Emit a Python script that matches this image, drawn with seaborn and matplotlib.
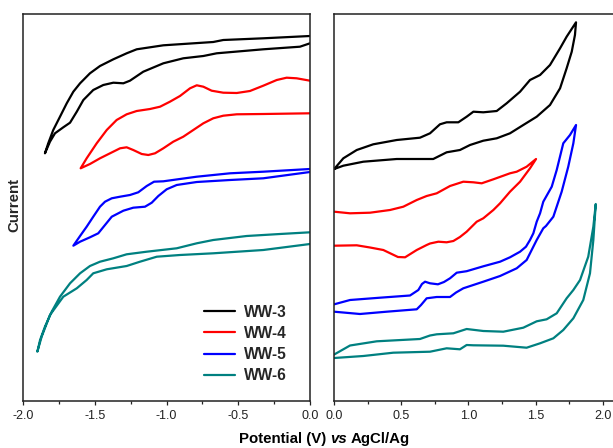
import numpy as np
import pandas as pd
import matplotlib
matplotlib.use("Agg")
import matplotlib.pyplot as plt
import seaborn as sns
from matplotlib.ticker import MultipleLocator
from matplotlib.offsetbox import TextArea, HPacker, AnchoredOffsetbox

samples = ["WW-3", "WW-4", "WW-5", "WW-6"]
colors = ["#000000", "#ff0000", "#0000ff", "#008080"]

# ---- negative scan (left panel): potential (V) and current (a.u.) ----
ww3_neg_v = [0.0, -0.326, -0.605, -0.675, -1.023, -1.209, -1.279, -1.372, -1.465, -1.535, -1.604,
             -1.651, -1.697, -1.744, -1.791, -1.826, -1.849,
             -1.814, -1.779, -1.721, -1.674, -1.627, -1.581, -1.512, -1.442, -1.372, -1.302, -1.256,
             -1.163, -1.023, -0.884, -0.744, -0.651, -0.326, -0.070, 0.0]
ww3_neg_i = [36.5, 36.27, 36.1, 35.9, 35.57, 35.17, 34.77, 34.17, 33.5, 32.77, 31.77,
             30.93, 29.77, 28.43, 27.1, 25.77, 24.77,
             25.93, 26.77, 27.37, 27.83, 28.93, 30.1, 31.1, 31.6, 31.83, 31.77, 32.03,
             32.93, 33.77, 34.27, 34.5, 34.77, 35.17, 35.43, 35.77]

ww4_neg_v = [0.0, -0.093, -0.163, -0.232, -0.326, -0.419, -0.511, -0.605, -0.686, -0.744, -0.790,
             -0.837, -0.907, -0.977, -1.046, -1.116, -1.209, -1.279, -1.349, -1.418, -1.488, -1.558,
             -1.600,
             -1.535, -1.465, -1.395, -1.325, -1.279, -1.233, -1.174, -1.128, -1.081, -1.023, -0.954,
             -0.884, -0.814, -0.744, -0.675, -0.605, -0.511, -0.326, 0.0]
ww4_neg_i = [32.03, 32.27, 32.33, 32.1, 31.53, 31.0, 30.8, 30.83, 31.03, 31.43, 31.57,
             31.27, 30.5, 29.93, 29.43, 29.2, 29.0, 28.67, 28.1, 27.1, 25.77, 24.27,
             23.27,
             23.7, 24.27, 24.77, 25.27, 25.37, 25.1, 24.7, 24.6, 24.77, 25.27, 25.93,
             26.43, 27.1, 27.77, 28.27, 28.53, 28.67, 28.7, 28.77]

ww5_neg_v = [0.0, -0.326, -0.558, -0.790, -0.907, -1.023, -1.088, -1.139, -1.198, -1.256, -1.325,
             -1.383, -1.430, -1.465, -1.512, -1.558, -1.604, -1.651,
             -1.604, -1.535, -1.477, -1.430, -1.383, -1.302, -1.233, -1.151, -1.104, -1.058, -1.000,
             -0.930, -0.790, -0.558, -0.326, 0.0]
ww5_neg_i = [23.2, 22.93, 22.77, 22.43, 22.2, 21.97, 21.93, 21.5, 20.87, 20.6, 20.43,
             20.27, 19.93, 19.43, 18.43, 17.43, 16.5, 15.53,
             15.93, 16.37, 16.77, 17.6, 18.43, 19.03, 19.33, 19.43, 19.83, 20.5, 21.17,
             21.6, 21.9, 22.1, 22.27, 22.9]

ww6_neg_v = [0.0, -0.209, -0.442, -0.675, -0.790, -0.930, -1.139, -1.279, -1.372, -1.465, -1.535,
             -1.604, -1.674, -1.744, -1.802, -1.849, -1.883, -1.902,
             -1.872, -1.814, -1.721, -1.627, -1.558, -1.512, -1.418, -1.279, -1.186, -1.069, -0.907,
             -0.675, -0.326, 0.0]
ww6_neg_i = [16.87, 16.7, 16.5, 16.1, 15.77, 15.27, 14.93, 14.67, 14.27, 13.93, 13.5,
             12.77, 11.77, 10.43, 8.93, 7.43, 6.1, 4.93,
             6.43, 8.6, 10.43, 11.27, 12.1, 12.77, 13.17, 13.5, 13.93, 14.43, 14.6,
             14.77, 15.1, 15.7]

# ---- positive scan (right panel) ----
ww3_pos_v = [0.0, 0.068, 0.168, 0.291, 0.466, 0.639, 0.714, 0.788, 0.838, 0.925, 0.987, 1.037, 1.111,
             1.211, 1.285, 1.385, 1.459, 1.534, 1.608, 1.683, 1.732, 1.802,
             1.794, 1.770, 1.732, 1.683, 1.608, 1.509, 1.409, 1.310, 1.211, 1.111, 1.012, 0.937,
             0.838, 0.738, 0.664, 0.466, 0.217, 0.068, 0.0]
ww3_pos_i = [23.2, 24.27, 25.1, 25.67, 26.1, 26.33, 26.77, 27.67, 27.87, 27.87, 28.43, 28.93, 28.87,
             29.0, 29.77, 30.93, 32.1, 32.6, 33.6, 35.27, 36.43, 37.87,
             36.6, 34.93, 33.27, 31.27, 29.6, 28.43, 27.6, 26.77, 26.27, 26.03, 25.6, 25.1,
             24.87, 24.2, 24.2, 24.2, 23.93, 23.53, 23.2]

ww4_pos_v = [0.0, 0.118, 0.267, 0.416, 0.515, 0.615, 0.689, 0.764, 0.863, 0.962, 1.037, 1.099, 1.186,
             1.310, 1.360, 1.434, 1.504,
             1.459, 1.385, 1.310, 1.236, 1.186, 1.111, 1.062, 0.987, 0.937, 0.888, 0.838, 0.776,
             0.714, 0.689, 0.615, 0.528, 0.475, 0.366, 0.267, 0.168, 0.0]
ww4_pos_i = [18.93, 18.77, 18.83, 19.1, 19.43, 20.1, 20.5, 20.77, 21.5, 21.93, 21.87, 21.77, 22.17,
             22.77, 22.93, 23.43, 24.2,
             23.27, 21.93, 20.93, 19.77, 19.1, 18.27, 17.93, 16.93, 16.4, 16.0, 15.87, 15.93,
             15.75, 15.6, 15.1, 14.37, 14.4, 15.1, 15.35, 15.57, 15.53]

ww5_pos_v = [0.0, 0.118, 0.341, 0.565, 0.627, 0.654, 0.677, 0.714, 0.773, 0.818, 0.863, 0.913, 0.987,
             1.111, 1.236, 1.310, 1.385, 1.429, 1.459, 1.484, 1.509, 1.534, 1.558, 1.621, 1.658,
             1.707, 1.757, 1.802,
             1.782, 1.744, 1.695, 1.633, 1.578, 1.558, 1.509, 1.434, 1.360, 1.236, 1.111, 0.962,
             0.908, 0.863, 0.764, 0.689, 0.647, 0.615, 0.391, 0.192, 0.0]
ww5_pos_i = [9.67, 10.1, 10.33, 10.55, 11.1, 11.7, 11.93, 11.77, 11.67, 11.9, 12.27, 12.83, 12.98,
             13.47, 13.93, 14.37, 14.93, 15.43, 16.1, 16.77, 17.93, 18.77, 19.93, 21.43, 23.1,
             25.77, 26.6, 27.6,
             25.77, 23.43, 20.93, 18.43, 17.5, 17.27, 16.1, 14.1, 13.27, 12.5, 11.93, 11.27,
             10.85, 10.4, 10.4, 10.27, 9.6, 9.17, 8.93, 8.7, 8.93]

ww6_pos_v = [0.0, 0.118, 0.317, 0.639, 0.714, 0.764, 0.888, 0.987, 1.111, 1.260, 1.409, 1.509, 1.583,
             1.658, 1.732, 1.782, 1.832, 1.893, 1.931, 1.949,
             1.931, 1.906, 1.856, 1.782, 1.707, 1.633, 1.534, 1.434, 1.260, 1.037, 0.987, 0.937,
             0.838, 0.714, 0.440, 0.217, 0.0]
ww6_pos_i = [4.65, 5.55, 5.97, 6.2, 6.55, 6.67, 6.77, 7.2, 7.0, 6.93, 7.33, 7.97, 8.17,
             8.77, 10.27, 11.1, 12.1, 14.43, 17.43, 19.7,
             16.1, 12.77, 10.1, 8.27, 7.1, 6.27, 5.77, 5.33, 5.53, 5.57, 5.6, 5.17,
             5.27, 4.93, 4.83, 4.5, 4.3]

left_ticks = [-2.0, -1.5, -1.0, -0.5, 0.0]
right_ticks = [0.0, 0.5, 1.0, 1.5, 2.0]

neg_data = [(ww3_neg_v, ww3_neg_i), (ww4_neg_v, ww4_neg_i), (ww5_neg_v, ww5_neg_i), (ww6_neg_v, ww6_neg_i)]
pos_data = [(ww3_pos_v, ww3_pos_i), (ww4_pos_v, ww4_pos_i), (ww5_pos_v, ww5_pos_i), (ww6_pos_v, ww6_pos_i)]

sns.set_style("white")
plt.rcParams["font.family"] = ["Liberation Sans", "DejaVu Sans"]
plt.rcParams["axes.unicode_minus"] = False

W, H = 613, 448
fig = plt.figure(figsize=(W / 100, H / 100), dpi=100)
axL = fig.add_axes([23.3 / W, 1 - 401 / H, (310 - 23.3) / W, 387 / H])
axR = fig.add_axes([334.2 / W, 1 - 401 / H, 2.1 * 134.2 / W, 387 / H])

for name, col, (v, i) in zip(samples, colors, neg_data):
    df = pd.DataFrame({"Potential": v, "Current": i})
    sns.lineplot(data=df, x="Potential", y="Current", sort=False, estimator=None,
                 color=col, lw=1.6, label=name, ax=axL, solid_joinstyle="round")
for name, col, (v, i) in zip(samples, colors, pos_data):
    df = pd.DataFrame({"Potential": v, "Current": i})
    sns.lineplot(data=df, x="Potential", y="Current", sort=False, estimator=None,
                 color=col, lw=1.6, ax=axR, legend=False, solid_joinstyle="round")

for ax, lim, ticks in [(axL, (-2.0, 0.0), left_ticks), (axR, (0.0, 2.1), right_ticks)]:
    ax.set_xlim(*lim)
    ax.set_ylim(0, 38.7)
    ax.set_xticks(ticks)
    ax.set_xticklabels([f"{t:.1f}" for t in ticks])
    ax.xaxis.set_minor_locator(MultipleLocator(0.25))
    ax.set_yticks([])
    ax.set_xlabel("")
    ax.set_ylabel("")
    ax.tick_params(axis="x", which="major", direction="out", length=3.0, width=0.9,
                   color="#222222", labelsize=9.0, labelcolor="#222222", pad=3.3, bottom=True)
    ax.tick_params(axis="x", which="minor", direction="out", length=2.0, width=0.9,
                   color="#222222", bottom=True)
    for s in ax.spines.values():
        s.set_linewidth(1.1)
        s.set_color("#222222")

leg = axL.legend(loc="upper left", bbox_to_anchor=(0.63, 0.249), frameon=False,
                 prop={"weight": "bold", "size": 11.2}, handlelength=2.0, handletextpad=0.55,
                 labelspacing=0.4, borderpad=0, borderaxespad=0)
for h in leg.get_lines():
    h.set_linewidth(1.6)

fig.text(14 / W, 1 - 205 / H, "Current", rotation=90, ha="center", va="center",
         fontsize=10.8, fontweight="bold")

tp = dict(fontsize=10.8, fontweight="bold", color="black")
parts = [TextArea("Potential (V)", textprops=tp),
         TextArea("vs", textprops=dict(tp, style="italic")),
         TextArea("AgCl/Ag", textprops=tp)]
pack = HPacker(children=parts, align="baseline", pad=0, sep=3)
ab = AnchoredOffsetbox(loc="upper center", child=pack, pad=0, borderpad=0, frameon=False,
                       bbox_to_anchor=(324.5 / W, 1 - 432 / H), bbox_transform=fig.transFigure)
fig.add_artist(ab)

fig.savefig("out.png", dpi=100)
